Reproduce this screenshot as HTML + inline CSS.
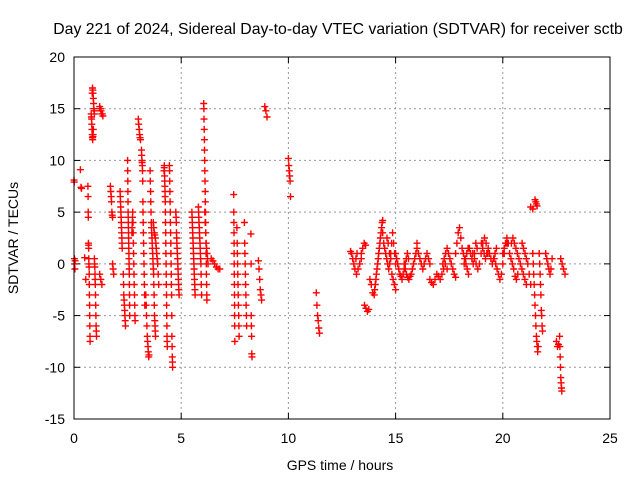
<!DOCTYPE html>
<html><head><meta charset="utf-8"><style>
body{margin:0;background:#fff}
svg{display:block;font-family:"Liberation Sans",sans-serif}
</style></head><body>
<svg id="chart" width="640" height="480" viewBox="0 0 640 480">
<text x="338" y="34" font-size="15.8" text-anchor="middle" fill="#000">Day 221 of 2024, Sidereal Day-to-day VTEC variation (SDTVAR) for receiver sctb</text>
<text x="340" y="470" font-size="14" text-anchor="middle">GPS time / hours</text>
<text transform="translate(18,238) rotate(-90)" font-size="14" text-anchor="middle">SDTVAR / TECUs</text>
<g id="grid"></g>
<g id="ticks"></g>
<g id="marks"></g>
<rect x="74" y="57" width="536" height="362" fill="none" stroke="#000" stroke-width="1"/>
</svg>
<script>
const xTicks=[0,5,10,15,20,25];
const yTicks=[20,15,10,5,0,-5,-10,-15];
// tracks: [startHour, endHour, values...]
const tracks=[
[0,0.05,[8.1,7.9,0.5,0,-0.5,0.3]],
[0.3,0.35,[9.1,7.4,7.3]],
[0.5,0.55,[0.6,-1.5]],
[0.65,0.75,[7.5,6.5,5,4.5,2,1.8,1.5,0.5,0,-0.3,-1,-2,-3,-4,-5,-6,-7,-7.5]],
[0.8,0.9,[14.5,14.2,14,13.5,13,12.5,12.2,12,12.3,12.5,13]],
[0.85,0.95,[16.5,17,16.8,16.5,16,15.5,15,14.8,14.5]],
[0.95,1.05,[0.5,0,-0.3,-1,-1.5,-2,-3,-4,-5,-6,-6.5,-7]],
[1.2,1.35,[15.2,15,14.8,14.5,14.5,14.3]],
[1.2,1.3,[-1,-1.5,-2]],
[1.7,1.8,[7.5,7,6.5,6,5,4.7,4.5]],
[1.8,1.85,[0,-0.5,-1]],
[2.15,2.25,[7,6.5,6,5.5,5,4.5,4,3.5,3,2.5,2,1.5]],
[2.3,2.4,[-1,-2,-3,-3.5,-4,-4.5,-5,-5.5,-6]],
[2.5,2.6,[10,9,8,7,6,5,4.5,4,3.5,3,2.5,2,1.5,1,0.5,0,-0.5,-1,-2,-3,-4,-5]],
[2.7,2.85,[3,3.5,4,4.5,5,4,3,2,1,0,-1,-2,-3,-4,-5,-5.5]],
[3.0,3.1,[14,13.5,13,12.5,12.2,12]],
[3.15,3.3,[11,10.5,10,9.8,9.5,9,8,6,5,4,3,2,1,0,-1,-2,-3,-4]],
[3.35,3.5,[-3,-4,-5,-6,-7,-7.5,-8,-8.5,-9,-8.8]],
[3.55,3.8,[9,8,7,6,5,4,3.5,3,2.5,2,1.5,1,0.5,0,-0.5,-1,-2,-3,-4,-5,-5.5,-6,-6.5,-7]],
[3.7,3.95,[4,3.5,3,2.8,2.5,2,1.5,1,0.5,0,-1,-2]],
[4.2,4.35,[9,9.3,9.5,9,8.5,8,7.5,7,6.5,6,5,4,3,2,1,0,-1,-2,-3,-4,-5,-6,-7,-7.5,-8]],
[4.45,4.6,[9.5,9,8,7,6,5,4,3,2,1,0,-1,-2,-3,-5,-7,-8,-9,-9.5,-10]],
[4.75,4.9,[5,4.5,4,3,2.5,2,1.5,1,0.5,0,-0.5,-1,-1.5,-2,-2.5,-3]],
[5.5,5.65,[5,4.5,4,3.5,3,2.5,2,1.5,1,0.5,0,-0.5,-1,-1.5,-2,-2.5,-3]],
[5.8,5.95,[5.5,5,4.5,4,3.5,3,2.5,2,1.5,1,0.5,0,-1,-2,-3]],
[6.05,6.2,[15.5,15,14,13,12,11,10,9,8,7,6,5,4,3,2,1,0,-1,-2,-3,-3.5]],
[6.1,6.25,[5,4,3,2,1.5,1,0.5,0]],
[6.4,6.8,[0.5,0.3,0,-0.3,-0.5,-0.5]],
[7.45,7.5,[6.7,5,4,3,2,1,0,-1,-2,-3,-4,-5,-6,-7.5]],
[7.6,7.7,[3.5,2,1,0,-1,-2,-3,-4,-5,-6,-7]],
[7.95,8.05,[4,2,1,0,-1,-2,-3,-4,-5,-6]],
[8.25,8.3,[2.9,0,-5,-6,-7,-8.7,-9]],
[8.6,8.75,[0.3,-0.5,-1.5,-2.5,-3,-3.5]],
[8.9,9.0,[15.2,14.8,14.2]],
[10.0,10.1,[10.2,9.5,9,8.5,8,6.5]],
[11.3,11.45,[-2.8,-4,-5,-5.5,-6.2,-6.7]],
[12.9,13.2,[1.2,1,0.5,0,-0.5,0.5,1]],
[13.1,13.4,[-0.5,-1,-0.5,0,0.5]],
[13.4,13.6,[1,1.5,2,1.8]],
[13.55,13.75,[-4,-4.3,-4.6,-4.4]],
[13.8,14.0,[-1.5,-2,-2.8,-3]],
[14.0,14.4,[-3,-2.5,-2,-1.5,-1,-0.5,0,0.5,1,1.5,2,2.5,3,3.5,4,4.2]],
[14.4,15.0,[3,2,1.5,1,0.5,0,-0.5,0,1,2,3,2,1,0]],
[14.6,15.0,[2.5,2,1,0.5,-1,-1.5,-2,-2.5]],
[15.0,15.6,[1,0.5,0,-0.5,-1,-1.2,-1.5,-1,-0.5,0,0.5,1,0.5]],
[15.4,16.0,[0,-0.5,-1,-1.3,-1.5,-1.2,-1,-0.5,0,0.5,1,2]],
[16.0,16.6,[1.5,1,0.5,0,-0.5,0,0.5,1,0.5,0]],
[16.6,17.4,[-1.5,-1.8,-2,-1.5,-1,-1.2,-1.5,-1,-0.5,0,-0.5]],
[17.2,17.8,[0,0.5,1,1.5,1,0.5,0,-0.5,-1,-1.3]],
[17.8,18.4,[1,2,3,3.5,2.5,1.5,1,0.5,0,-0.5,-1]],
[18.2,18.8,[0,0.5,1,1.5,1.5,1,0.5,0,1,2,1.5]],
[18.6,19.3,[1,0.5,0,-0.5,0,1,2,2.5,2,1]],
[19.0,19.7,[2,1.5,1,0.5,1,1.5,1,0.5,0,0.5,1,1.5]],
[19.6,20.2,[0.5,0,-0.5,-1,-1.5,-1,0,1,2,2]],
[20.0,20.7,[1,1.5,2,2.5,2,1,0.5,0,-0.5,-1.2,-1.5,-1]],
[20.4,21.1,[2,2.5,2,1.5,1,0.5,0,-0.5,-1,-1.5,-2]],
[20.9,21.3,[2,1.5,1,0.5,0,-1,-2]],
[21.3,21.4,[5.5,5.3]],
[21.5,21.6,[6.2,6,5.8,5.6]],
[21.4,21.65,[1,0,-1,-2,-3,-4,-5,-6,-7,-7.5,-8,-8.5,-8]],
[21.7,21.85,[1,0,-1,-2,-3,-4.5,-5,-6,-6.5]],
[22.0,22.3,[1,0.5,0,-0.5,-1,-0.5,0.5]],
[22.5,22.6,[-7.5,-8,-7.8]],
[22.65,22.75,[-7,-8,-9,-10,-11,-11.5,-12,-12.3]],
[22.7,22.9,[0.5,0,-0.5,-1]]
];
const X0=74,X1=610,Y0=419,Y1=57;
const xs=t=>X0+(t-0)/25*(X1-X0);
const ys=v=>Y0-(v+15)/35*(Y0-Y1);
const NS='http://www.w3.org/2000/svg';
const grid=document.getElementById('grid'),ticks=document.getElementById('ticks'),marks=document.getElementById('marks');
function mk(tag,attrs,parent){const e=document.createElementNS(NS,tag);for(const k in attrs)e.setAttribute(k,attrs[k]);parent.appendChild(e);return e;}
xTicks.forEach(t=>{const x=xs(t);
 if(t>0&&t<25){const g=mk('line',{x1:x,x2:x,y1:Y0,y2:Y1,stroke:'#999','stroke-dasharray':'2,3'},grid);
 
 }
 mk('line',{x1:x,x2:x,y1:Y0,y2:Y0-6,stroke:'#000'},ticks);mk('line',{x1:x,x2:x,y1:Y1,y2:Y1+6,stroke:'#000'},ticks);
 const l=mk('text',{x:x,y:Y0+24,'font-size':14,'text-anchor':'middle'},ticks);l.textContent=t;
 
 });
yTicks.forEach(v=>{const y=ys(v);
 if(v>-15&&v<20){const g=mk('line',{x1:X0,x2:X1,y1:y,y2:y,stroke:'#999','stroke-dasharray':'2,3'},grid);
 
 }
 mk('line',{x1:X0,x2:X0+6,y1:y,y2:y,stroke:'#000'},ticks);mk('line',{x1:X1,x2:X1-6,y1:y,y2:y,stroke:'#000'},ticks);
 const l=mk('text',{x:X0-9,y:y+5,'font-size':14,'text-anchor':'end'},ticks);l.textContent=v;
 
 });
let d='';
tracks.forEach(([t0,t1,vals])=>{const n=vals.length;vals.forEach((v,i)=>{const t=n>1?t0+(t1-t0)*i/(n-1):t0;const x=xs(t),y=ys(v);
 d+=`M${(x-3.5).toFixed(1)} ${y.toFixed(1)}h7M${x.toFixed(1)} ${(y-3.5).toFixed(1)}v7`;});});
const p=mk('path',{d:d,stroke:'#f00','stroke-width':1.4,fill:'none'},marks);


</script>
</body></html>
